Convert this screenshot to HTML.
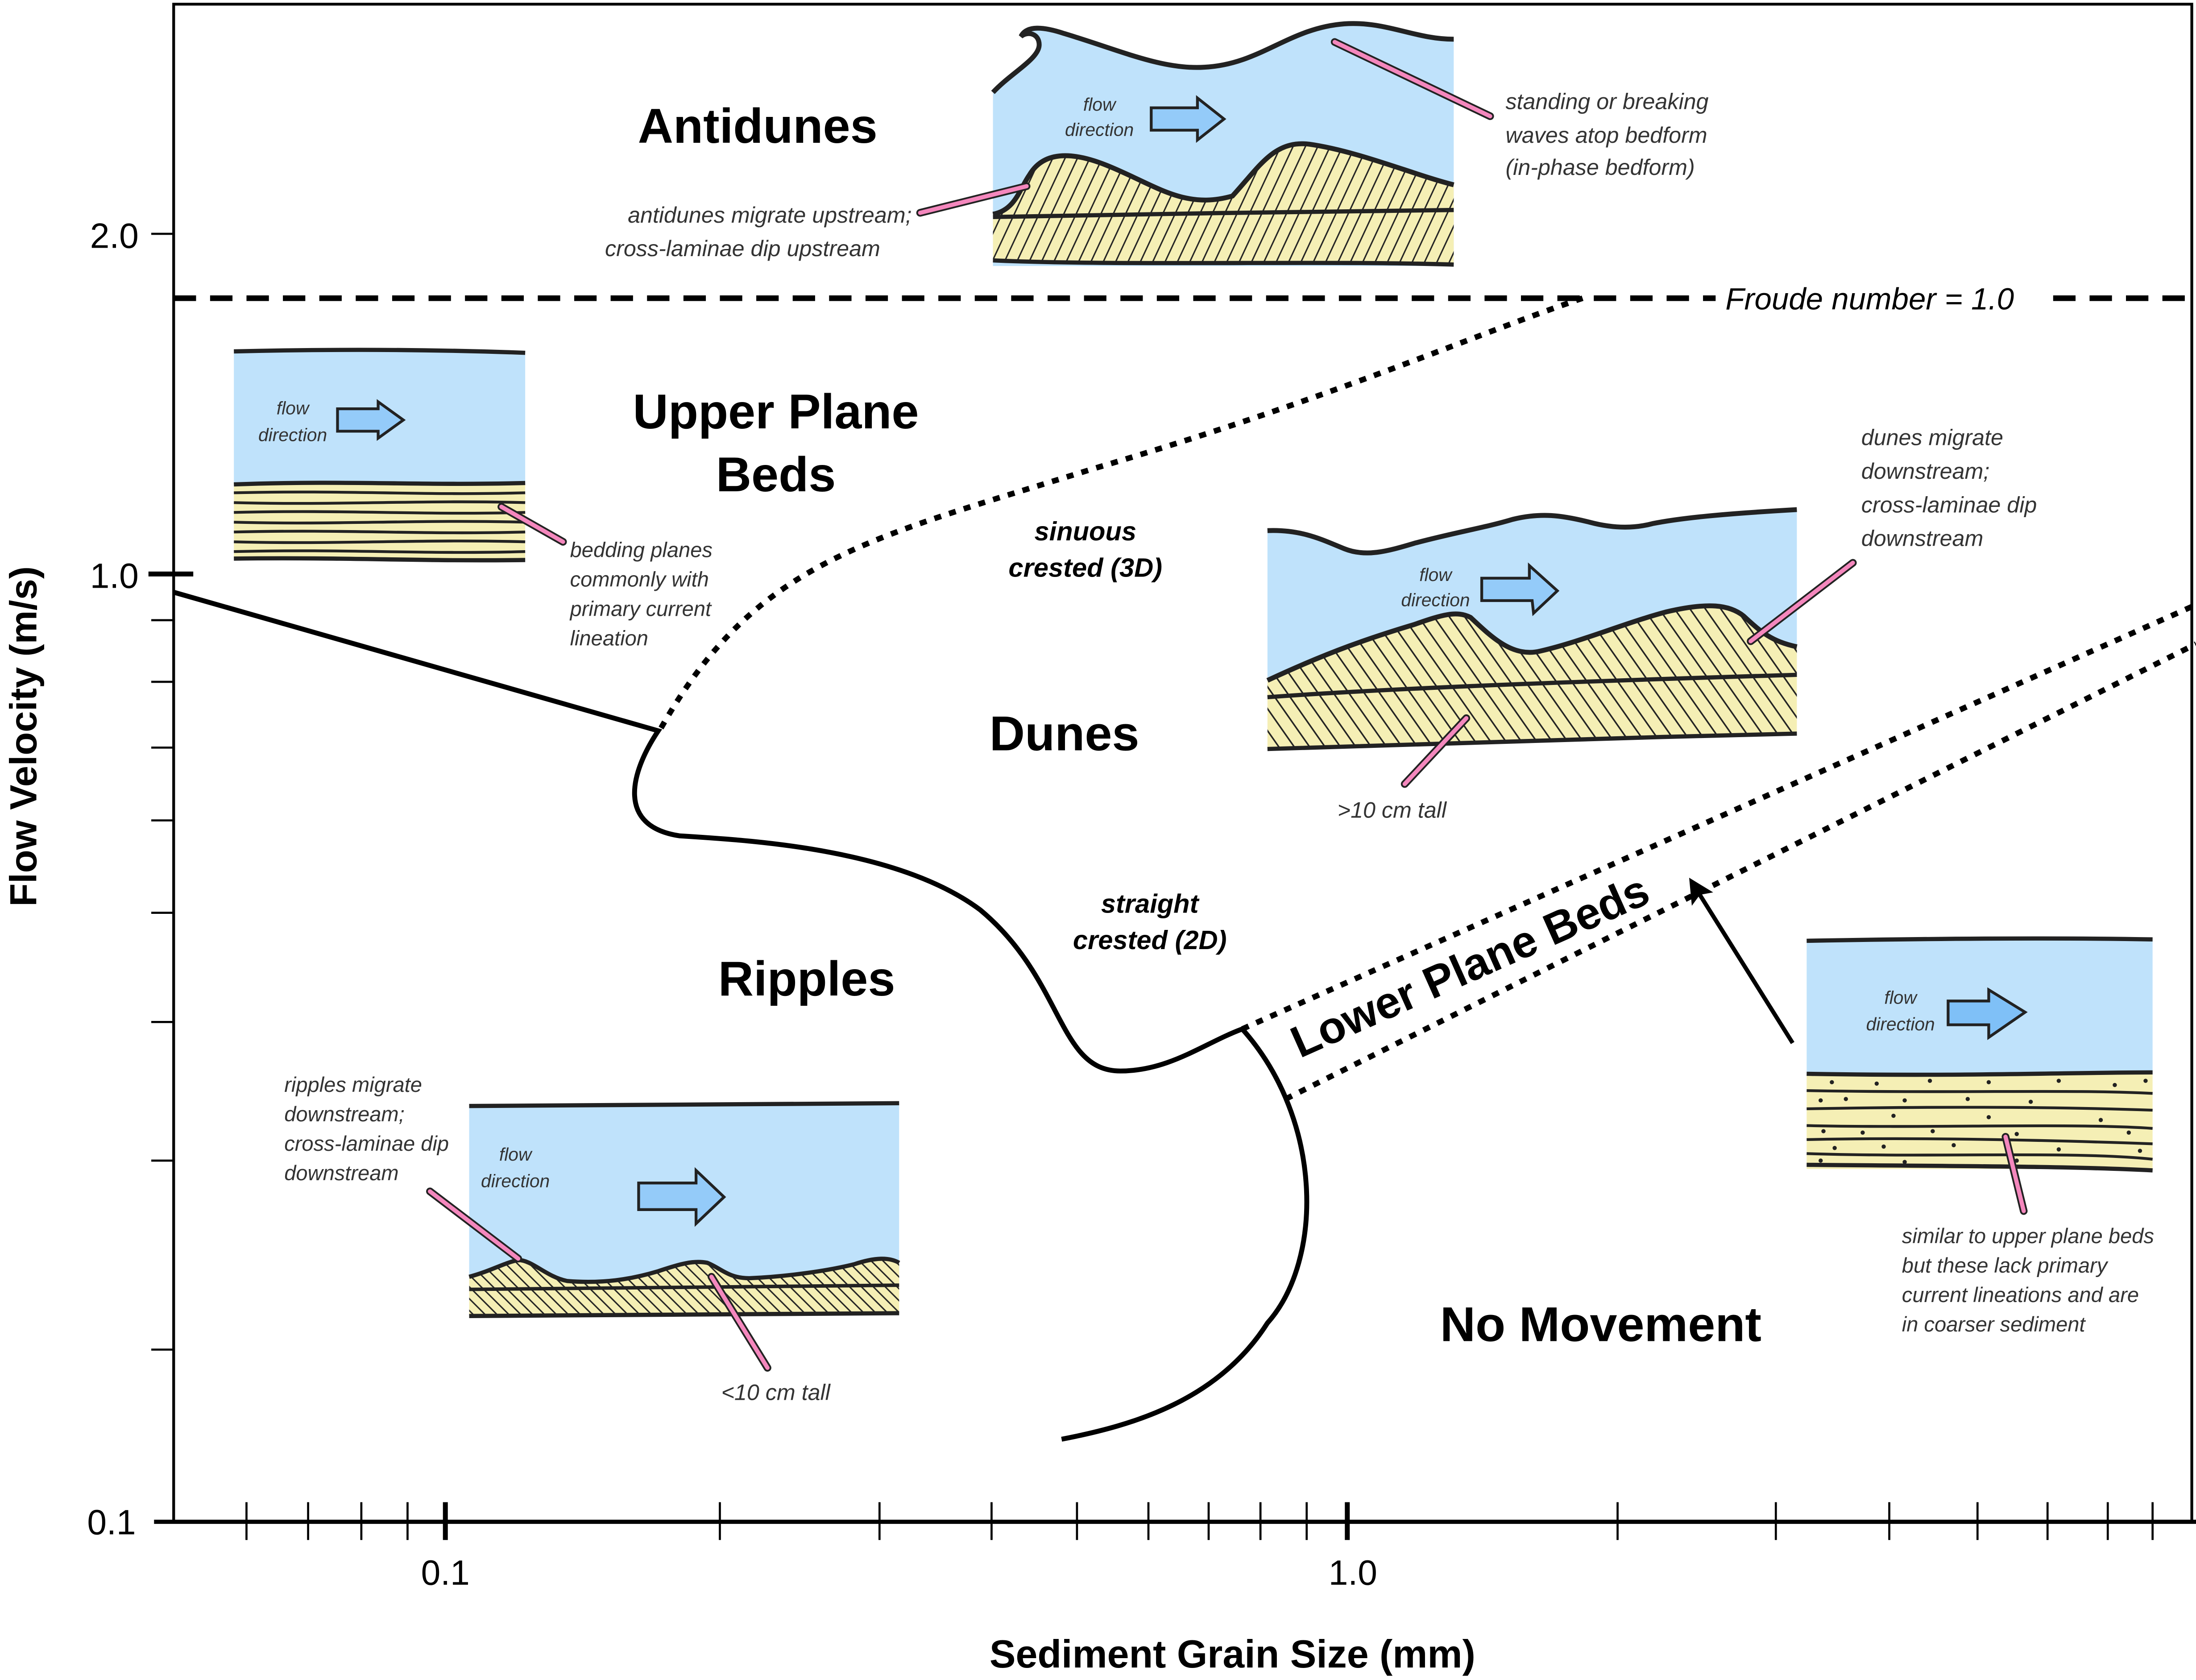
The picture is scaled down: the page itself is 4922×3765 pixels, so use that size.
<!DOCTYPE html>
<html><head><meta charset="utf-8"><style>
html,body{margin:0;padding:0;background:#fff;}
svg{display:block;}
text{font-family:"Liberation Sans",sans-serif;}
.ann{font-style:italic;font-size:16px;fill:#333;}
.fd{font-style:italic;font-size:13px;fill:#333;text-anchor:middle;}
.big{font-weight:bold;font-size:35px;fill:#000;text-anchor:middle;}
.sub{font-weight:bold;font-style:italic;font-size:19px;fill:#000;text-anchor:middle;}
</style></head><body>
<svg width="4922" height="3765" viewBox="0 0 1568 1200" preserveAspectRatio="none" xmlns="http://www.w3.org/2000/svg">
<defs>
<pattern id="hs" width="8" height="10" patternUnits="userSpaceOnUse" patternTransform="rotate(25)"><rect width="8" height="10" fill="#f5efb5"/><line x1="1" y1="0" x2="1" y2="10" stroke="#222" stroke-width="1"/></pattern>
<pattern id="hb" width="9" height="10" patternUnits="userSpaceOnUse" patternTransform="rotate(-35)"><rect width="9" height="10" fill="#f5efb5"/><line x1="1" y1="0" x2="1" y2="10" stroke="#222" stroke-width="1.1"/></pattern>
<pattern id="hr" width="6" height="10" patternUnits="userSpaceOnUse" patternTransform="rotate(-45)"><rect width="6" height="10" fill="#f5efb5"/><line x1="1" y1="0" x2="1" y2="10" stroke="#222" stroke-width="1"/></pattern>
<marker id="ah" viewBox="0 0 10 10" refX="8" refY="5" markerWidth="6" markerHeight="6" orient="auto"><path d="M0,0 L10,5 L0,10 L2,5 Z" fill="#000"/></marker>
</defs>
<rect width="1568" height="1200" fill="#fff"/>

<path d="M124,1087 L124,3 L1565,3 L1565,1087" fill="none" stroke="#000" stroke-width="2"/>
<line x1="110" y1="1087" x2="1568" y2="1087" stroke="#000" stroke-width="3"/>
<g stroke="#000" stroke-width="1.5">
<line x1="108" y1="167" x2="124" y2="167"/>
<line x1="108" y1="443" x2="124" y2="443"/>
<line x1="108" y1="487" x2="124" y2="487"/>
<line x1="108" y1="534" x2="124" y2="534"/>
<line x1="108" y1="586" x2="124" y2="586"/>
<line x1="108" y1="652" x2="124" y2="652"/>
<line x1="108" y1="730" x2="124" y2="730"/>
<line x1="108" y1="829" x2="124" y2="829"/>
<line x1="108" y1="964" x2="124" y2="964"/>
</g>
<line x1="106" y1="410" x2="138" y2="410" stroke="#000" stroke-width="3.5"/>
<g stroke="#000" stroke-width="1.5">
<line x1="176" y1="1073" x2="176" y2="1100"/><line x1="220" y1="1073" x2="220" y2="1100"/>
<line x1="258" y1="1073" x2="258" y2="1100"/><line x1="291" y1="1073" x2="291" y2="1100"/>
<line x1="514" y1="1073" x2="514" y2="1100"/><line x1="628" y1="1073" x2="628" y2="1100"/>
<line x1="708" y1="1073" x2="708" y2="1100"/><line x1="769" y1="1073" x2="769" y2="1100"/>
<line x1="820" y1="1073" x2="820" y2="1100"/><line x1="863" y1="1073" x2="863" y2="1100"/>
<line x1="900" y1="1073" x2="900" y2="1100"/><line x1="933" y1="1073" x2="933" y2="1100"/>
<line x1="1155" y1="1073" x2="1155" y2="1100"/><line x1="1268" y1="1073" x2="1268" y2="1100"/>
<line x1="1349" y1="1073" x2="1349" y2="1100"/><line x1="1412" y1="1073" x2="1412" y2="1100"/>
<line x1="1462" y1="1073" x2="1462" y2="1100"/><line x1="1505" y1="1073" x2="1505" y2="1100"/>
<line x1="1537" y1="1073" x2="1537" y2="1100"/>
</g>
<line x1="318" y1="1073" x2="318" y2="1100" stroke="#000" stroke-width="3.5"/>
<line x1="962" y1="1073" x2="962" y2="1100" stroke="#000" stroke-width="3.5"/>
<g font-size="25" fill="#000">
<text x="99" y="177" text-anchor="end">2.0</text>
<text x="99" y="420" text-anchor="end">1.0</text>
<text x="97" y="1096" text-anchor="end">0.1</text>
<text x="318" y="1132" text-anchor="middle">0.1</text>
<text x="966" y="1132" text-anchor="middle">1.0</text>
</g>
<text x="880" y="1191" text-anchor="middle" font-weight="bold" font-size="28">Sediment Grain Size (mm)</text>
<text transform="translate(26,526) rotate(-90)" text-anchor="middle" font-weight="bold" font-size="27">Flow Velocity (m/s)</text>

<line x1="124" y1="213" x2="1225" y2="213" stroke="#000" stroke-width="4" stroke-dasharray="16,10"/>
<line x1="1466" y1="213" x2="1562" y2="213" stroke="#000" stroke-width="4" stroke-dasharray="16,10"/>
<text x="1232" y="221" font-style="italic" font-size="22">Froude number = 1.0</text>

<path d="M124,423 L470,522 C450,552 440,590 485,597 C530,600 640,605 700,650 C760,700 755,765 800,765 C835,765 860,745 887,735 C945,800 945,900 905,945 C870,1000 810,1018 758,1028" fill="none" stroke="#000" stroke-width="3.5"/>
<path d="M472,520 C540,400 620,385 780,335 C950,285 1050,240 1130,213" fill="none" stroke="#000" stroke-width="4" stroke-dasharray="5,6"/>
<path d="M887,735 L1568,432" fill="none" stroke="#000" stroke-width="4" stroke-dasharray="5,6"/>
<path d="M918,785 L1568,460" fill="none" stroke="#000" stroke-width="4" stroke-dasharray="5,6"/>
<text transform="translate(1054,700) rotate(-24)" text-anchor="middle" font-weight="bold" font-size="32">Lower Plane Beds</text>
<line x1="1280" y1="745" x2="1208" y2="630" stroke="#000" stroke-width="3" marker-end="url(#ah)"/>

<text class="big" x="541" y="102">Antidunes</text>
<text class="big" x="554" y="306">Upper Plane</text>
<text class="big" x="554" y="351">Beds</text>
<text class="big" x="760" y="536">Dunes</text>
<text class="big" x="576" y="711">Ripples</text>
<text class="big" x="1143" y="958">No Movement</text>
<text class="sub" x="775" y="386">sinuous</text>
<text class="sub" x="775" y="412">crested (3D)</text>
<text class="sub" x="821" y="652">straight</text>
<text class="sub" x="821" y="678">crested (2D)</text>

<!-- Antidunes inset -->
<path d="M709,66 C722,52 742,42 742,32 C742,24 734,22 729,26 C733,18 745,19 760,24 C800,36 830,50 860,48 C900,46 920,20 960,17 C990,15 1010,28 1038,28 L1038,190 L709,190 Z" fill="#bfe2fb"/>
<path d="M709,153 C725,150 728,135 735,125 C745,108 765,108 790,118 C825,132 845,150 880,140 C900,118 910,100 935,103 C970,108 1010,125 1038,132 L1038,189 C950,186 800,190 709,186 Z" fill="url(#hs)"/>
<path d="M709,66 C722,52 742,42 742,32 C742,24 734,22 729,26 C733,18 745,19 760,24 C800,36 830,50 860,48 C900,46 920,20 960,17 C990,15 1010,28 1038,28" fill="none" stroke="#222" stroke-width="3.5"/>
<path d="M709,153 C725,150 728,135 735,125 C745,108 765,108 790,118 C825,132 845,150 880,140 C900,118 910,100 935,103 C970,108 1010,125 1038,132" fill="none" stroke="#222" stroke-width="3.5"/>
<path d="M709,155 C800,153 950,151 1038,150" fill="none" stroke="#222" stroke-width="3"/>
<path d="M709,186 C800,190 950,186 1038,189" fill="none" stroke="#222" stroke-width="3"/>
<text class="fd" x="785" y="79">flow</text><text class="fd" x="785" y="97">direction</text>
<path d="M822,77 L855,77 L855,70 L874,85 L855,100 L855,93 L822,93 Z" fill="#94cbf9" stroke="#222" stroke-width="2"/>

<!-- Upper plane inset -->
<path d="M167,251 C250,249 320,250 375,252 L375,346 L167,346 Z" fill="#bfe2fb"/>
<rect x="167" y="345" width="208" height="55" fill="#f5efb5"/>
<path d="M167,251 C250,249 320,250 375,252" fill="none" stroke="#222" stroke-width="3"/>
<g fill="none" stroke="#222" stroke-width="2">
<path d="M167,352 C250,350 300,354 375,352"/><path d="M167,359 C240,361 300,357 375,359"/>
<path d="M167,366 C250,364 300,368 375,366"/><path d="M167,373 C240,375 300,371 375,373"/>
<path d="M167,380 C250,378 300,382 375,380"/><path d="M167,387 C240,389 300,385 375,387"/>
<path d="M167,394 C250,392 300,396 375,394"/>
</g>
<path d="M167,346 C250,343 300,347 375,345" fill="none" stroke="#222" stroke-width="3"/>
<path d="M167,399 C250,398 300,401 375,400" fill="none" stroke="#222" stroke-width="3"/>
<text class="fd" x="209" y="296">flow</text><text class="fd" x="209" y="315">direction</text>
<path d="M241,292 L270,292 L270,287 L288,300 L270,313 L270,308 L241,308 Z" fill="#94cbf9" stroke="#222" stroke-width="2"/>

<!-- Dunes inset -->
<path d="M905,379 C930,378 945,386 960,392 C975,398 990,394 1010,388 C1040,380 1060,377 1080,371 C1100,366 1115,368 1135,373 C1150,377 1165,378 1180,374 C1200,370 1230,367 1283,364 L1283,470 L905,490 Z" fill="#bfe2fb"/>
<path d="M905,486 C950,465 980,455 1010,446 C1030,439 1040,436 1050,441 C1065,455 1080,470 1100,465 C1130,458 1160,445 1190,437 C1220,430 1235,432 1245,440 C1258,452 1265,458 1283,462 L1283,524 C1150,527 1000,532 905,535 Z" fill="url(#hb)"/>
<path d="M905,379 C930,378 945,386 960,392 C975,398 990,394 1010,388 C1040,380 1060,377 1080,371 C1100,366 1115,368 1135,373 C1150,377 1165,378 1180,374 C1200,370 1230,367 1283,364" fill="none" stroke="#222" stroke-width="3.5"/>
<path d="M905,486 C950,465 980,455 1010,446 C1030,439 1040,436 1050,441 C1065,455 1080,470 1100,465 C1130,458 1160,445 1190,437 C1220,430 1235,432 1245,440 C1258,452 1265,458 1283,462" fill="none" stroke="#222" stroke-width="3.5"/>
<path d="M905,498 C1000,491 1150,486 1283,482" fill="none" stroke="#222" stroke-width="3"/>
<path d="M905,535 C1000,532 1150,527 1283,524" fill="none" stroke="#222" stroke-width="3"/>
<text class="fd" x="1025" y="415">flow</text><text class="fd" x="1025" y="433">direction</text>
<path d="M1058,413 L1092,413 L1092,404 L1112,422 L1095,438 L1094,429 L1058,429 Z" fill="#94cbf9" stroke="#222" stroke-width="2"/>

<!-- Ripples inset -->
<path d="M335,790 L642,788 L642,915 L335,915 Z" fill="#bfe2fb"/>
<path d="M335,912 C350,908 360,902 370,900 C380,900 390,912 405,915 C430,917 450,914 470,908 C485,903 495,900 505,902 C515,906 520,913 535,913 C560,912 590,908 610,903 C625,898 635,898 642,902 L642,939 L335,941 Z" fill="url(#hr)"/>
<path d="M335,790 L642,788" fill="none" stroke="#222" stroke-width="3"/>
<path d="M335,912 C350,908 360,902 370,900 C380,900 390,912 405,915 C430,917 450,914 470,908 C485,903 495,900 505,902 C515,906 520,913 535,913 C560,912 590,908 610,903 C625,898 635,898 642,902" fill="none" stroke="#222" stroke-width="3"/>
<path d="M335,921 L642,918" fill="none" stroke="#222" stroke-width="2.5"/>
<path d="M335,940 L642,938" fill="none" stroke="#222" stroke-width="3"/>
<text class="fd" x="368" y="829">flow</text><text class="fd" x="368" y="848">direction</text>
<path d="M456,845 L497,845 L497,836 L517,855 L497,874 L497,864 L456,864 Z" fill="#94cbf9" stroke="#222" stroke-width="2"/>

<!-- Lower plane inset -->
<path d="M1290,672 C1400,670 1480,670 1537,671 L1537,767 L1290,767 Z" fill="#bfe2fb"/>
<rect x="1290" y="767" width="247" height="68" fill="#f5efb5"/>
<path d="M1290,672 C1400,670 1480,670 1537,671" fill="none" stroke="#222" stroke-width="3"/>
<path d="M1290,767 C1400,769 1480,766 1537,766" fill="none" stroke="#222" stroke-width="3"/>
<g fill="none" stroke="#222" stroke-width="2">
<path d="M1290,779 C1400,781 1480,778 1537,781"/><path d="M1290,792 C1400,790 1480,791 1537,793"/>
<path d="M1290,804 C1380,806 1480,802 1537,806"/><path d="M1290,814 C1380,812 1480,815 1537,817"/>
<path d="M1290,824 C1380,827 1480,822 1537,828"/>
</g>
<path d="M1290,832 C1400,833 1480,833 1537,836" fill="none" stroke="#222" stroke-width="3"/>
<g fill="#222">
<circle cx="1308" cy="773" r="1.5"/><circle cx="1340" cy="774" r="1.5"/><circle cx="1378" cy="772" r="1.5"/><circle cx="1420" cy="773" r="1.5"/><circle cx="1470" cy="772" r="1.5"/><circle cx="1510" cy="775" r="1.5"/><circle cx="1532" cy="772" r="1.5"/>
<circle cx="1300" cy="786" r="1.5"/><circle cx="1318" cy="785" r="1.5"/><circle cx="1360" cy="786" r="1.5"/><circle cx="1405" cy="785" r="1.5"/><circle cx="1450" cy="787" r="1.5"/>
<circle cx="1352" cy="797" r="1.5"/><circle cx="1420" cy="798" r="1.5"/><circle cx="1500" cy="800" r="1.5"/>
<circle cx="1302" cy="808" r="1.5"/><circle cx="1330" cy="809" r="1.5"/><circle cx="1380" cy="808" r="1.5"/><circle cx="1440" cy="810" r="1.5"/><circle cx="1520" cy="809" r="1.5"/>
<circle cx="1310" cy="820" r="1.5"/><circle cx="1345" cy="819" r="1.5"/><circle cx="1395" cy="818" r="1.5"/><circle cx="1470" cy="821" r="1.5"/><circle cx="1528" cy="822" r="1.5"/>
<circle cx="1300" cy="829" r="1.5"/><circle cx="1360" cy="830" r="1.5"/><circle cx="1440" cy="829" r="1.5"/>
</g>
<text class="fd" x="1357" y="717">flow</text><text class="fd" x="1357" y="736">direction</text>
<path d="M1391,715 L1420,715 L1420,707 L1446,723 L1420,741 L1420,732 L1391,732 Z" fill="#7fc0f7" stroke="#222" stroke-width="2"/>

<g stroke-linecap="round">
<g stroke="#222" stroke-width="5.5">
<line x1="657" y1="152" x2="733" y2="133"/><line x1="953" y1="30" x2="1064" y2="83"/>
<line x1="358" y1="362" x2="402" y2="387"/><line x1="1250" y1="458" x2="1323" y2="402"/>
<line x1="1003" y1="560" x2="1047" y2="513"/><line x1="307" y1="851" x2="370" y2="899"/>
<line x1="508" y1="912" x2="548" y2="977"/><line x1="1432" y1="812" x2="1445" y2="865"/>
</g>
<g stroke="#f487bd" stroke-width="3">
<line x1="657" y1="152" x2="733" y2="133"/><line x1="953" y1="30" x2="1064" y2="83"/>
<line x1="358" y1="362" x2="402" y2="387"/><line x1="1250" y1="458" x2="1323" y2="402"/>
<line x1="1003" y1="560" x2="1047" y2="513"/><line x1="307" y1="851" x2="370" y2="899"/>
<line x1="508" y1="912" x2="548" y2="977"/><line x1="1432" y1="812" x2="1445" y2="865"/>
</g>
</g>

<text class="ann" x="651" y="159" text-anchor="end">antidunes migrate upstream;</text>
<text class="ann" x="432" y="183">cross-laminae dip upstream</text>
<text class="ann" x="1075" y="78">standing or breaking</text>
<text class="ann" x="1075" y="102">waves atop bedform</text>
<text class="ann" x="1075" y="125">(in-phase bedform)</text>
<text class="ann" x="407" y="398" style="font-size:15px">bedding planes</text>
<text class="ann" x="407" y="419" style="font-size:15px">commonly with</text>
<text class="ann" x="407" y="440" style="font-size:15px">primary current</text>
<text class="ann" x="407" y="461" style="font-size:15px">lineation</text>
<text class="ann" x="1329" y="318">dunes migrate</text>
<text class="ann" x="1329" y="342">downstream;</text>
<text class="ann" x="1329" y="366">cross-laminae dip</text>
<text class="ann" x="1329" y="390">downstream</text>
<text class="ann" x="955" y="584">&gt;10 cm tall</text>
<text class="ann" x="203" y="780" style="font-size:15px">ripples migrate</text>
<text class="ann" x="203" y="801" style="font-size:15px">downstream;</text>
<text class="ann" x="203" y="822" style="font-size:15px">cross-laminae dip</text>
<text class="ann" x="203" y="843" style="font-size:15px">downstream</text>
<text class="ann" x="515" y="1000">&lt;10 cm tall</text>
<text class="ann" x="1358" y="888" style="font-size:15px">similar to upper plane beds</text>
<text class="ann" x="1358" y="909" style="font-size:15px">but these lack primary</text>
<text class="ann" x="1358" y="930" style="font-size:15px">current lineations and are</text>
<text class="ann" x="1358" y="951" style="font-size:15px">in coarser sediment</text>
</svg>
</body></html>
